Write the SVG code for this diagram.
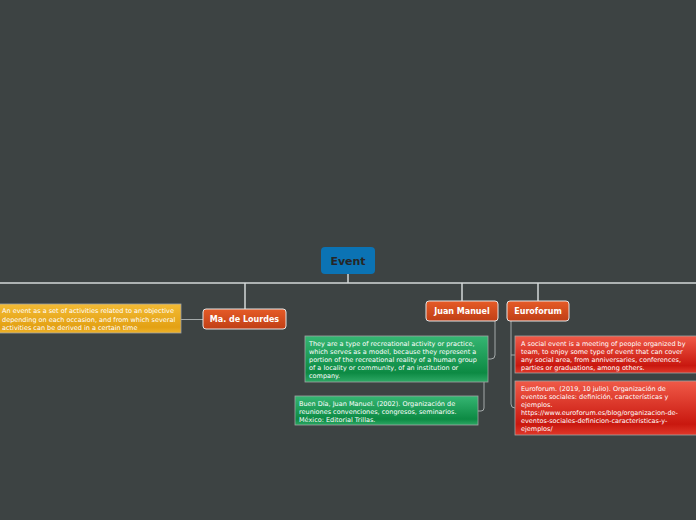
<svg xmlns="http://www.w3.org/2000/svg" width="696" height="520" viewBox="0 0 696 520">
<defs>
<linearGradient id="gOr" x1="0" y1="0" x2="0" y2="1"><stop offset="0" stop-color="#e65b27"/><stop offset="1" stop-color="#c03f16"/></linearGradient>
<linearGradient id="gYe" x1="0" y1="0" x2="0" y2="1"><stop offset="0" stop-color="#f3bb35"/><stop offset="0.8" stop-color="#e3a114"/><stop offset="1" stop-color="#eeb22a"/></linearGradient>
<linearGradient id="gGr" x1="0" y1="0" x2="0" y2="1"><stop offset="0" stop-color="#36b673"/><stop offset="0.8" stop-color="#0c8a43"/><stop offset="1" stop-color="#2ea865"/></linearGradient>
<linearGradient id="gRe" x1="0" y1="0" x2="0" y2="1"><stop offset="0" stop-color="#f05a48"/><stop offset="0.8" stop-color="#c9180f"/><stop offset="1" stop-color="#e0382a"/></linearGradient>
<style>
.bg{fill:#3d4343}
.main{stroke:#d3d7d7;stroke-width:1.5;fill:none}
.sub{stroke:#a4aaaa;stroke-width:1;fill:none}
.topic{stroke:#e6e6e6;stroke-width:1}
.box{stroke:#a0a4a4;stroke-width:0.8}
.tt{font-family:"DejaVu Sans",Verdana,sans-serif;font-weight:bold;font-size:8px;fill:#ffffff;text-anchor:middle}
.st{font-family:"DejaVu Sans",Verdana,sans-serif;font-size:6.5px;fill:#ffffff}
</style>
</defs>
<rect class="bg" x="0" y="0" width="696" height="520"/>
<g id="connectors">
<path class="main" d="M0,283 H696"/>
<path class="main" d="M348,274 V283"/>
<path class="main" d="M245,283 V309"/>
<path class="main" d="M462,283 V301"/>
<path class="main" d="M538,283 V301"/>
<path class="sub" d="M181,319.5 H203"/>
<path class="sub" d="M495,321 V355 Q495,359 491,359 H488"/>
<path class="sub" d="M484,382 V408 Q484,411 481,411 H478"/>
<path class="sub" d="M511,321 V404 Q511,408 515,408"/>
<path class="sub" d="M511,355 H515"/>
</g>
<g id="event">
<rect x="321" y="247" width="54" height="27" rx="4" fill="#0b73b4"/>
<text x="348" y="265" style="font-family:'DejaVu Sans',Verdana,sans-serif;font-weight:bold;font-size:11px;fill:#262626;text-anchor:middle">Event</text>
</g>
<g id="lourdes">
<rect class="topic" x="203" y="309" width="83" height="20" rx="3" fill="url(#gOr)"/>
<text class="tt" x="244.5" y="322">Ma. de Lourdes</text>
</g>
<g id="lourdes-note">
<rect class="box" x="-1" y="304" width="182" height="29" fill="url(#gYe)"/>
<text class="st" x="2" y="313">An event as a set of activities related to an objective</text>
<text class="st" x="2" y="321.5">depending on each occasion, and from which several</text>
<text class="st" x="2" y="330">activities can be derived in a certain time</text>
</g>
<g id="juan">
<rect class="topic" x="426" y="301" width="72" height="20" rx="3" fill="url(#gOr)"/>
<text class="tt" x="462" y="314">Juan Manuel</text>
</g>
<g id="juan-note1">
<rect class="box" x="305" y="336" width="183" height="46" fill="url(#gGr)"/>
<text class="st" x="309" y="346">They are a type of recreational activity or practice,</text>
<text class="st" x="309" y="354">which serves as a model, because they represent a</text>
<text class="st" x="309" y="362">portion of the recreational reality of a human group</text>
<text class="st" x="309" y="370">of a locality or community, of an institution or</text>
<text class="st" x="309" y="378">company.</text>
</g>
<g id="juan-note2">
<rect class="box" x="295" y="396" width="183" height="29" fill="url(#gGr)"/>
<text class="st" x="299" y="405.5">Buen Día, Juan Manuel. (2002). Organización de</text>
<text class="st" x="299" y="413.5">reuniones convenciones, congresos, seminarios.</text>
<text class="st" x="299" y="421.5">México: Editorial Trillas.</text>
</g>
<g id="euroforum">
<rect class="topic" x="507" y="301" width="62" height="20" rx="3" fill="url(#gOr)"/>
<text class="tt" x="538" y="314">Euroforum</text>
</g>
<g id="euro-note1">
<rect class="box" x="515" y="336" width="183" height="37" fill="url(#gRe)"/>
<text class="st" x="521" y="346">A social event is a meeting of people organized by</text>
<text class="st" x="521" y="354">team, to enjoy some type of event that can cover</text>
<text class="st" x="521" y="362">any social area, from anniversaries, conferences,</text>
<text class="st" x="521" y="370">parties or graduations, among others.</text>
</g>
<g id="euro-note2">
<rect class="box" x="515" y="381" width="183" height="54" fill="url(#gRe)"/>
<text class="st" x="521" y="390.5">Euroforum. (2019, 10 julio). Organización de</text>
<text class="st" x="521" y="398.5">eventos sociales: definición, características y</text>
<text class="st" x="521" y="406.5">ejemplos.</text>
<text class="st" x="521" y="414.5">https://www.euroforum.es/blog/organizacion-de-</text>
<text class="st" x="521" y="422.5">eventos-sociales-definicion-caracteristicas-y-</text>
<text class="st" x="521" y="430.5">ejemplos/</text>
</g>
</svg>
